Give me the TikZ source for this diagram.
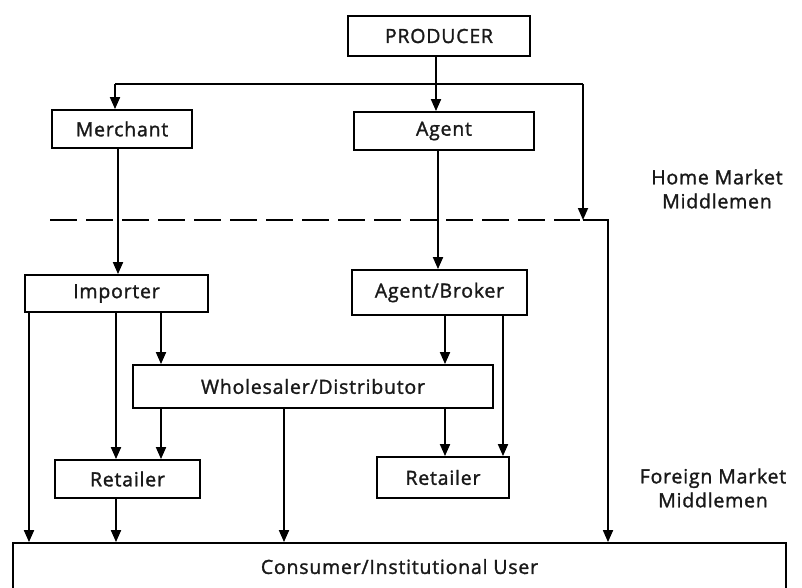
\documentclass[tikz,border=0pt]{standalone}
\usepackage{fontspec}
\setmainfont{Open Sans}[LetterSpace=4, FakeBold=1.5]
\usetikzlibrary{arrows.meta}
\begin{document}
\begin{tikzpicture}[x=1pt,y=-1pt,
  box/.style={draw, line width=1.8pt, inner sep=0pt, font=\fontsize{19.5}{22}\selectfont, text=black!90},
  lbl/.style={font=\fontsize{19.5}{24}\selectfont, align=center, text=black!90},
  arr/.style={line width=1.8pt, -{Triangle[length=12pt,width=10pt]}},
  ln/.style={line width=1.8pt}]
\useasboundingbox (0,0) rectangle (802,588);
\clip (0,0) rectangle (802,588);
% boxes
\node[box, minimum width=182pt, minimum height=40pt] (producer) at (439,36) {PRODUCER};
\node[box, minimum width=140pt, minimum height=38pt] (merchant) at (122,129) {Merchant};
\node[box, minimum width=180pt, minimum height=38pt] (agent) at (444,131) {Agent};
\node[box, minimum width=183pt, minimum height=37pt] (importer) at (116.5,293.5) {Importer};
\node[box, minimum width=175pt, minimum height=45pt] (broker) at (439.5,292.5) {Agent/Broker};
\node[box, minimum width=360pt, minimum height=43pt] (wholesaler) at (313,386.5) {Wholesaler/Distributor};
\node[box, minimum width=145pt, minimum height=38pt] (retailerL) at (127.5,479) {Retailer};
\node[box, minimum width=132pt, minimum height=41pt] (retailerR) at (443,477.5) {Retailer};
\node[box, minimum width=773pt, minimum height=57pt, text depth=10pt] (consumer) at (399.5,571.5) {Consumer/Institutional User};
% labels
\node[lbl] (home) at (717,189) {Home Market\\Middlemen};
\node[lbl] (foreign) at (713,488) {Foreign Market\\Middlemen};
% coordinates
\coordinate (busL) at (115,84);
\coordinate (busR) at (583,84);
\coordinate (xprod) at (436,0);
\coordinate (xm) at (118,0);
\coordinate (xa) at (438,0);
\coordinate (step) at (583,220);
\coordinate (stepR) at (608,220);
\coordinate (xi1) at (29,0);
\coordinate (xi2) at (116,0);
\coordinate (xi3) at (161,0);
\coordinate (xw) at (284,0);
\coordinate (xb1) at (445,0);
\coordinate (xb2) at (503,0);
\coordinate (dashL) at (50,220);
\coordinate (dashR) at (580,220);
% dashed boundary
\draw[line width=2.2pt, dash pattern=on 27pt off 9pt] (dashL) -- (dashR);
% producer distribution
\draw[ln] (busL) -- (busR);
\draw[arr] (producer.south -| xprod) -- (agent.north -| xprod);
\draw[arr] (busL) -- (merchant.north -| busL);
\draw[arr] (busR) -- (step);
\draw[arr] (step) -- (stepR) -- (stepR |- consumer.north);
% home to foreign
\draw[arr] (merchant.south -| xm) -- (importer.north -| xm);
\draw[arr] (agent.south -| xa) -- (broker.north -| xa);
% importer
\draw[arr] (importer.south -| xi1) -- (consumer.north -| xi1);
\draw[arr] (importer.south -| xi2) -- (retailerL.north -| xi2);
\draw[arr] (importer.south -| xi3) -- (wholesaler.north -| xi3);
% wholesaler
\draw[arr] (wholesaler.south -| xi3) -- (retailerL.north -| xi3);
\draw[arr] (wholesaler.south -| xw) -- (consumer.north -| xw);
\draw[arr] (wholesaler.south -| xb1) -- (retailerR.north -| xb1);
% broker
\draw[arr] (broker.south -| xb1) -- (wholesaler.north -| xb1);
\draw[arr] (broker.south -| xb2) -- (retailerR.north -| xb2);
% retailer
\draw[arr] (retailerL.south -| xi2) -- (consumer.north -| xi2);
\end{tikzpicture}
\end{document}
